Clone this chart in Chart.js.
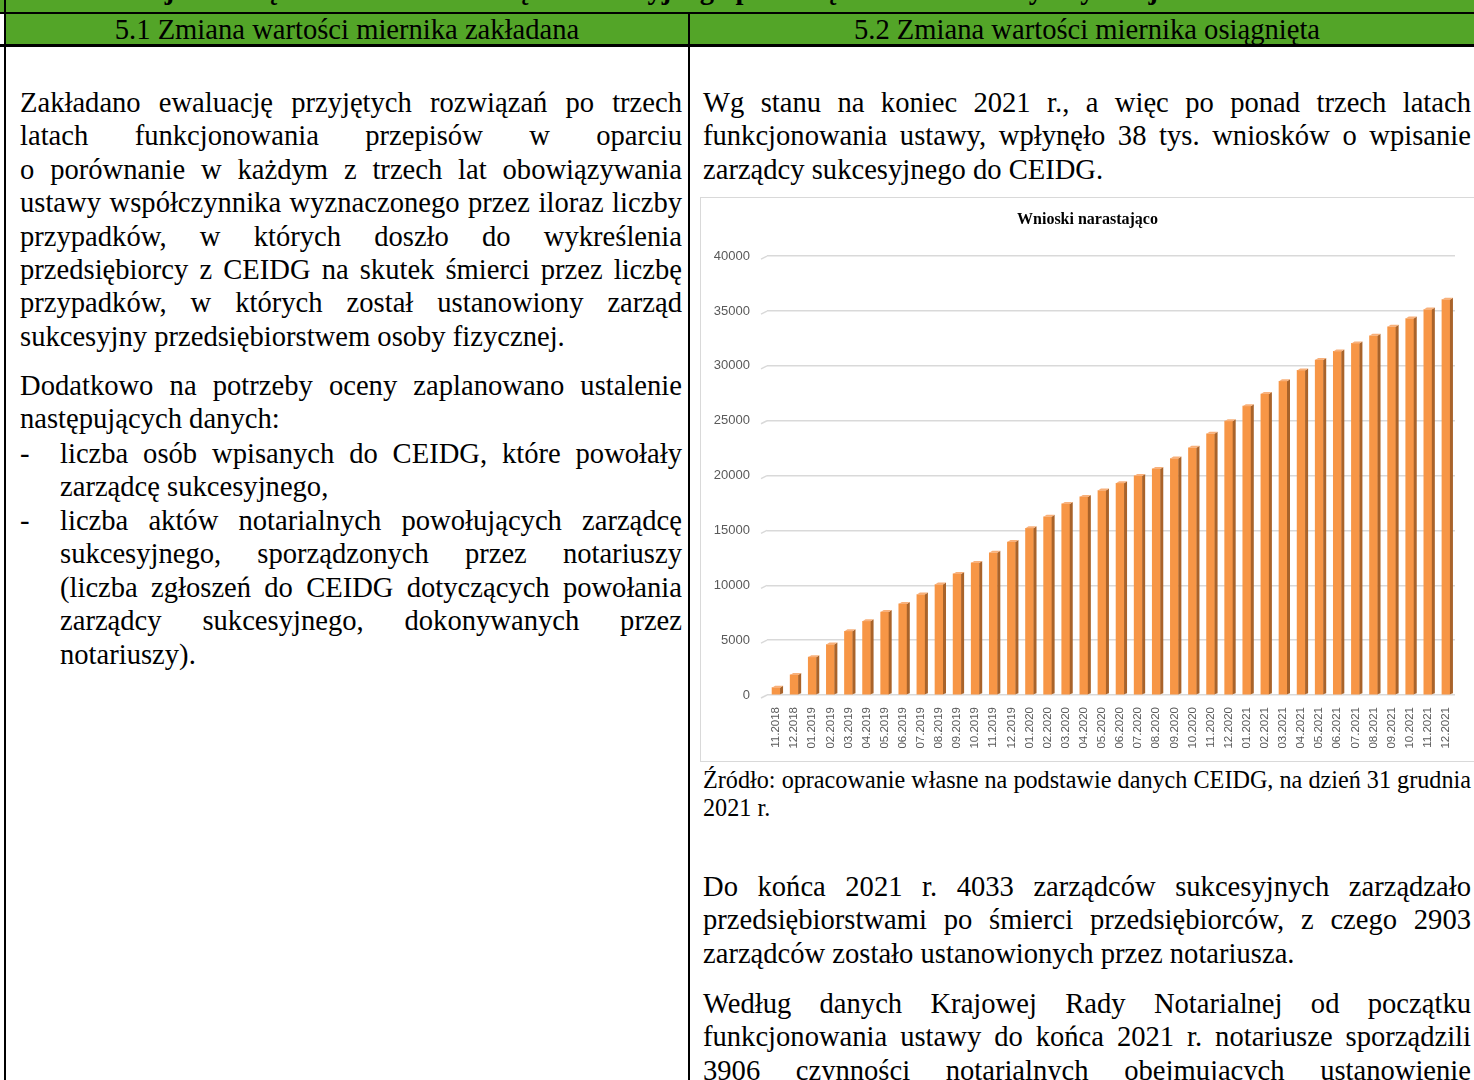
<!DOCTYPE html>
<html lang="pl">
<head>
<meta charset="utf-8">
<title>Wnioski narastająco</title>
<script src="https://cdn.jsdelivr.net/npm/chart.js@4/dist/chart.umd.min.js"></script>
<style>
  html, body { margin: 0; padding: 0; background: #fff; }
  body { width: 1474px; height: 1080px; overflow: hidden; position: relative;
         font-family: "Liberation Serif", "Times New Roman", serif; font-size: 28.6px; color: #000; }
  .abs { position: absolute; }
  .txt { line-height: 33.4px; }
  .j { text-align: justify; text-align-last: justify; white-space: nowrap; }
  .l { text-align: left; white-space: nowrap; }
  .green { background: #53a528; }
  .hline { background: #000; }
  #chartBox { position: absolute; left: 700px; top: 197px; width: 800px; height: 565px;
              border: 1px solid #d9d9d9; box-sizing: border-box; }
  #chartBox canvas { position: absolute; left: 0; top: 0; }
</style>
</head>
<body>
<!-- top (cropped) section row -->
<div class="abs green" style="left:0;top:0;width:1474px;height:13px;overflow:hidden;">
  <div class="abs" style="left:60px;top:-27px;font-weight:bold;white-space:nowrap;line-height:33px;">
    Ewaluacja rozwiązań w zakresie zarządu sukcesyjnego przedsiębiorstwem osoby fizycznej
  </div>
</div>
<div class="abs hline" style="left:0;top:12px;width:1474px;height:2px;"></div>
<!-- header row -->
<div class="abs green" style="left:5px;top:14px;width:1469px;height:30px;"></div>
<div class="abs hline" style="left:0;top:44px;width:1474px;height:3px;"></div>
<div class="abs hline" style="left:4px;top:0;width:2px;height:1080px;"></div>
<div class="abs hline" style="left:688px;top:12px;width:2px;height:1068px;"></div>
<div class="abs txt" style="left:6px;top:13px;width:682px;text-align:center;white-space:nowrap;">5.1 Zmiana wartości miernika zakładana</div>
<div class="abs txt" style="left:690px;top:13px;width:794px;text-align:center;white-space:nowrap;">5.2 Zmiana wartości miernika osiągnięta</div>

<!-- left column -->
<div class="abs txt" style="left:20px;top:86px;width:662px;">
  <div class="j">Zakładano ewaluację przyjętych rozwiązań po trzech</div>
  <div class="j">latach funkcjonowania przepisów w oparciu</div>
  <div class="j">o&nbsp;porównanie w każdym z trzech lat obowiązywania</div>
  <div class="j">ustawy współczynnika wyznaczonego przez iloraz liczby</div>
  <div class="j">przypadków, w których doszło do wykreślenia</div>
  <div class="j">przedsiębiorcy z CEIDG na skutek śmierci przez liczbę</div>
  <div class="j">przypadków, w których został ustanowiony zarząd</div>
  <div class="l">sukcesyjny przedsiębiorstwem osoby fizycznej.</div>
</div>
<div class="abs txt" style="left:20px;top:369px;width:662px;">
  <div class="j">Dodatkowo na potrzeby oceny zaplanowano ustalenie</div>
  <div class="l">następujących danych:</div>
</div>
<div class="abs txt" style="left:20px;top:437px;">-</div>
<div class="abs txt" style="left:60px;top:437px;width:622px;">
  <div class="j">liczba osób wpisanych do CEIDG, które powołały</div>
  <div class="l">zarządcę sukcesyjnego,</div>
</div>
<div class="abs txt" style="left:20px;top:504px;">-</div>
<div class="abs txt" style="left:60px;top:504px;width:622px;">
  <div class="j">liczba aktów notarialnych powołujących zarządcę</div>
  <div class="j">sukcesyjnego, sporządzonych przez notariuszy</div>
  <div class="j">(liczba zgłoszeń do&nbsp;CEIDG dotyczących powołania</div>
  <div class="j">zarządcy sukcesyjnego, dokonywanych przez</div>
  <div class="l">notariuszy).</div>
</div>

<!-- right column -->
<div class="abs txt" style="left:703px;top:86px;width:768px;">
  <div class="j">Wg stanu na koniec 2021 r., a więc po ponad trzech latach</div>
  <div class="j">funkcjonowania ustawy, wpłynęło 38 tys. wniosków o wpisanie</div>
  <div class="l">zarządcy sukcesyjnego do CEIDG.</div>
</div>

<div id="chartBox"><canvas id="bar-chart" width="773" height="563"></canvas></div>

<div class="abs" style="left:703px;top:766px;width:768px;line-height:28px;font-size:24.2px;">
  <div class="j">Źródło: opracowanie własne na podstawie danych CEIDG, na dzień 31 grudnia</div>
  <div class="l">2021 r.</div>
</div>
<div class="abs txt" style="left:703px;top:870px;width:768px;">
  <div class="j">Do końca 2021 r. 4033 zarządców sukcesyjnych zarządzało</div>
  <div class="j">przedsiębiorstwami po śmierci przedsiębiorców, z czego 2903</div>
  <div class="l">zarządców zostało ustanowionych przez notariusza.</div>
</div>
<div class="abs txt" style="left:703px;top:987px;width:768px;">
  <div class="j">Według danych Krajowej Rady Notarialnej od początku</div>
  <div class="j">funkcjonowania ustawy do końca 2021 r. notariusze sporządzili</div>
  <div class="j">3906 czynności notarialnych obejmujących ustanowienie</div>
</div>

<script>
  var months = ["11.2018","12.2018",
    "01.2019","02.2019","03.2019","04.2019","05.2019","06.2019","07.2019","08.2019","09.2019","10.2019","11.2019","12.2019",
    "01.2020","02.2020","03.2020","04.2020","05.2020","06.2020","07.2020","08.2020","09.2020","10.2020","11.2020","12.2020",
    "01.2021","02.2021","03.2021","04.2021","05.2021","06.2021","07.2021","08.2021","09.2021","10.2021","11.2021","12.2021"];
  var wnioski = [670,1830,
    3450,4600,5800,6720,7570,8300,9150,10070,11040,12040,12970,13940,
    15190,16250,17420,18060,18640,19300,19970,20610,21550,22530,23810,24960,
    26330,27430,28590,29590,30530,31320,32050,32750,33570,34310,35130,36040];
  var yTicks = [0,5000,10000,15000,20000,25000,30000,35000,40000];

  // dark side + light top, so the bars look like the 3D ones from Excel
  var bar3d = {
    id: 'bar3d',
    beforeDatasetsDraw: function(chart) {
      // small slanted stubs at the left end of each gridline (3D floor look)
      var ctx = chart.ctx, y = chart.scales.y, left = chart.chartArea.left;
      ctx.save();
      ctx.strokeStyle = '#d9d9d9';
      ctx.lineWidth = 1.5;
      y.ticks.forEach(function(t) {
        var py = y.getPixelForValue(t.value);
        ctx.beginPath(); ctx.moveTo(left - 6, py + 3); ctx.lineTo(left, py); ctx.stroke();
      });
      ctx.restore();
    },
    afterDatasetsDraw: function(chart) {
      var ctx = chart.ctx;
      chart.getDatasetMeta(0).data.forEach(function(bar) {
        var p = bar.getProps(['x','y','base','width'], true);
        var l = p.x - p.width / 2, r = p.x + p.width / 2;
        ctx.save();
        ctx.fillStyle = '#a9632a';
        ctx.beginPath();
        ctx.moveTo(r, p.y); ctx.lineTo(r + 3, p.y - 2); ctx.lineTo(r + 3, p.base - 1); ctx.lineTo(r, p.base);
        ctx.closePath(); ctx.fill();
        ctx.fillStyle = '#f8b07a';
        ctx.beginPath();
        ctx.moveTo(l, p.y); ctx.lineTo(l + 3, p.y - 2); ctx.lineTo(r + 3, p.y - 2); ctx.lineTo(r, p.y);
        ctx.closePath(); ctx.fill();
        ctx.restore();
      });
    }
  };

  var chart = new Chart(document.getElementById("bar-chart"), {
    type: 'bar',
    data: {
      labels: months,
      datasets: [{
        label: "Wnioski",
        data: wnioski,
        backgroundColor: '#f79646',
        barThickness: 8
      }]
    },
    plugins: [bar3d],
    options: {
      responsive: false,
      animation: false,
      devicePixelRatio: 1,
      layout: { padding: 0 },
      plugins: {
        legend: { display: false },
        tooltip: { enabled: false },
        title: {
          display: true,
          text: 'Wnioski narastająco',
          color: '#000',
          font: { family: 'Liberation Serif', size: 16, weight: 'bold' },
          padding: { top: 12, bottom: 27 }
        }
      },
      scales: {
        x: {
          grid: { display: false },
          border: { display: false },
          afterFit: function(s) { s.height = 66; },
          ticks: {
            autoSkip: false, minRotation: 90, maxRotation: 90, padding: 4,
            color: '#595959', font: { family: 'Liberation Sans', size: 11.5 }
          }
        },
        y: {
          min: 0, max: 40000,
          afterFit: function(s) { s.width = 66; },
          afterBuildTicks: function(s) { s.ticks = yTicks.map(function(v) { return { value: v }; }); },
          grid: { color: '#d9d9d9', lineWidth: 1.5, drawTicks: false },
          border: { display: false },
          ticks: {
            padding: 17, color: '#595959', font: { family: 'Liberation Sans', size: 13 },
            callback: function(v) { return String(v); }
          }
        },
        // empty right-hand margin, kept as an axis so the title stays centred on the whole box
        yRight: {
          position: 'right', min: 0, max: 40000,
          afterFit: function(s) { s.width = 19; },
          grid: { display: false, drawTicks: false },
          border: { display: false },
          ticks: { display: false }
        }
      }
    }
  });
</script>
</body>
</html>
